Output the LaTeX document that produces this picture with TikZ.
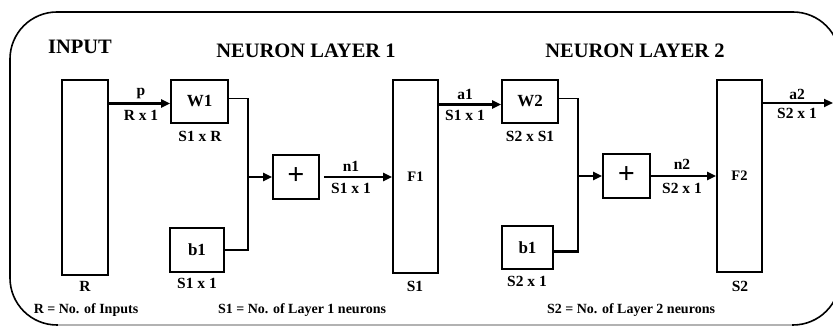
\documentclass[tikz,border=0pt]{standalone}
\usepackage{fontspec}
\setmainfont{Liberation Serif}
\usetikzlibrary{arrows.meta,calc}
\begin{document}
\begin{tikzpicture}[x=1pt,y=-1pt,
  blk/.style={draw,line width=1.9pt,minimum width=#1,inner sep=0pt,font=\fontsize{17}{18}\selectfont\bfseries},
  plusbox/.style={blk=#1,font=\fontsize{30}{30}\selectfont\bfseries},
  lbl/.style={inner sep=0pt,font=\fontsize{15.5}{16}\selectfont\bfseries},
  ttl/.style={inner sep=0pt,font=\fontsize{20.5}{22}\selectfont\bfseries},
  note/.style={inner sep=0pt,font=\fontsize{14}{15}\selectfont\bfseries},
  wire/.style={line width=1.9pt},
  arr/.style={line width=2.2pt,-{Triangle[length=9pt,width=8pt]}}]
\useasboundingbox (0,0) rectangle (833,328);
\clip (0,0) rectangle (833,328);
% frame
\draw[line width=1.6pt,rounded corners=47pt] (10,12) rectangle (840,325);
\draw[line width=1.8pt,black!30] (58,325) -- (792,325);
% titles
\node[ttl] (tin) at (80,47) {INPUT};
\node[ttl] (tl1) at (306,51) {NEURON LAYER 1};
\node[ttl] (tl2) at (635,51) {NEURON LAYER 2};
% blocks
\node[blk=46pt,minimum height=195pt] (in) at (85,177.5) {};
\node[blk=57pt,minimum height=43pt] (W1) at (199.5,101.5) {W1};
\node[plusbox=46pt,minimum height=44pt] (p1) at (296,177) {\raisebox{1pt}{+}};
\node[blk=54pt,minimum height=44pt] (b1a) at (197,250) {b1};
\node[blk=45pt,minimum height=193pt,font=\fontsize{14.5}{15}\selectfont\bfseries] (F1) at (415.5,176.5) {F1};
\node[blk=56pt,minimum height=43pt] (W2) at (530,101.5) {W2};
\node[plusbox=47pt,minimum height=44pt] (p2) at (626.5,176) {\raisebox{1pt}{+}};
\node[blk=51pt,minimum height=43pt] (b1b) at (527.5,247.5) {b1};
\node[blk=45pt,minimum height=192pt,font=\fontsize{14.5}{15}\selectfont\bfseries] (F2) at (739.5,176) {F2};
% junctions
\coordinate (j1) at (248,177);
\coordinate (j2) at (578,176);
\coordinate (out) at (833,103);
% connectors
\draw[arr] ([yshift=-2pt]W1.west -| in.east) -- ([yshift=-2pt]W1.west);
\draw[wire] ([yshift=3pt]W1.east) -| (j1);
\draw[wire] (b1a.east) -| (j1);
\draw[arr] (j1) -- (p1.west);
\draw[arr] ([xshift=4pt]p1.east) -- (F1.west |- p1.east);
\draw[arr] ([yshift=-3pt]W2.west -| F1.east) -- ([yshift=-3pt]W2.west);
\draw[wire] ([yshift=3pt]W2.east) -| (j2);
\draw[wire,line width=2.8pt] ([yshift=-4pt]b1b.east) -| (j2);
\draw[arr,line width=2.6pt] (j2) -- (p2.west);
\draw[arr] (p2.east) -- (F2.west |- p2.east);
\draw[arr] (F2.east |- out) -- (out);
% labels
\node[lbl] (lp) at (141,94) {p};
\node[lbl] (lrx1) at (141,115) {R x 1};
\node[lbl] (ls1r) at (200,136) {S1 x R};
\node[lbl] (lb1a) at (197,283) {S1 x 1};
\node[lbl] (ln1) at (351,166) {n1};
\node[lbl] (ln1d) at (351,188) {S1 x 1};
\node[lbl] (la1) at (465,94) {a1};
\node[lbl] (la1d) at (465,115) {S1 x 1};
\node[lbl] (ls2s1) at (530,136) {S2 x S1};
\node[lbl] (lb1b) at (527,281) {S2 x 1};
\node[lbl] (ln2) at (682,164) {n2};
\node[lbl] (ln2d) at (682,188) {S2 x 1};
\node[lbl] (la2) at (797,94) {a2};
\node[lbl] (la2d) at (797,113) {S2 x 1};
\node[lbl] (lR) at (85,286) {R};
\node[lbl] (lS1) at (415,286) {S1};
\node[lbl] (lS2) at (740,286) {S2};
% notes
\node[note] (nR) at (86,310) {R = No. of Inputs};
\node[note] (nS1) at (302,310) {S1 = No. of Layer 1 neurons};
\node[note] (nS2) at (631,310) {S2 = No. of Layer 2 neurons};
\end{tikzpicture}
\end{document}
